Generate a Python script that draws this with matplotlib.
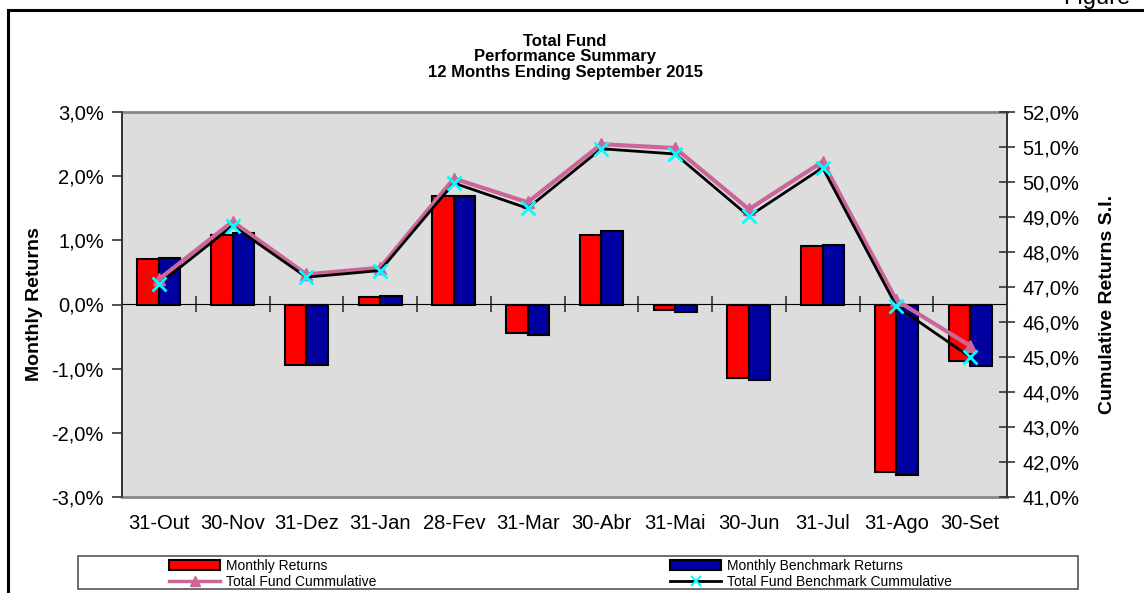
import matplotlib.pyplot as plt
plt.switch_backend("agg")
import numpy as np
from matplotlib.lines import Line2D
from matplotlib.patches import Patch, Rectangle
from matplotlib.ticker import FuncFormatter

plt.rcParams['font.family'] = ['Liberation Sans', 'DejaVu Sans']

months = ["31-Out", "30-Nov", "31-Dez", "31-Jan", "28-Fev", "31-Mar",
          "30-Abr", "31-Mai", "30-Jun", "31-Jul", "31-Ago", "30-Set"]
# monthly returns, %
fund_ret = [0.71, 1.09, -0.94, 0.12, 1.69, -0.45, 1.09, -0.09, -1.14, 0.91, -2.61, -0.88]
bench_ret = [0.73, 1.12, -0.94, 0.13, 1.69, -0.47, 1.14, -0.12, -1.17, 0.93, -2.65, -0.96]
# cumulative since inception, %
fund_cum = [47.22, 48.87, 47.36, 47.55, 50.1, 49.42, 51.08, 50.97, 49.22, 50.58, 46.62, 45.32]
bench_cum = [47.08, 48.75, 47.28, 47.47, 49.97, 49.25, 50.95, 50.8, 49.02, 50.41, 46.45, 45.0]

fig = plt.figure(figsize=(11.44, 5.93), dpi=100)
ax = fig.add_axes([122 / 1144, 96 / 593, 885 / 1144, 385 / 593])
ax.set_facecolor("#dddddd")

x = np.arange(len(months))
w = 0.29
ax.bar(x - w / 2, fund_ret, w, color="#ff0000", edgecolor="black", linewidth=1.5, zorder=2)
ax.bar(x + w / 2, bench_ret, w, color="#0000a0", edgecolor="black", linewidth=1.5, zorder=2)

ax.set_xlim(-0.5, len(months) - 0.5)
ax.set_ylim(-3, 3)
ax.set_yticks(np.arange(-3, 3.1, 1))
pct = FuncFormatter(lambda v, p: ("%.1f%%" % v).replace(".", ","))
ax.yaxis.set_major_formatter(pct)
ax.set_xticks(x)
ax.set_xticklabels(months)
ax.tick_params(axis="x", length=0, labelsize=14.5, pad=12)
ax.tick_params(axis="y", direction="out", length=7, width=1.2, color="#333333",
               labelsize=14.5, pad=6)
ax.set_ylabel("Monthly Returns", fontsize=14, fontweight="bold", labelpad=6)
for s in ["left", "right"]:
    ax.spines[s].set_color("#333333")
    ax.spines[s].set_linewidth(1.2)
for s in ["top", "bottom"]:
    ax.spines[s].set_color("#888888")
    ax.spines[s].set_linewidth(2)

# zero line with category separators
zero = ax.secondary_xaxis(0.5)
zero.set_xticks(np.arange(0.5, len(months) - 1, 1))
zero.set_xticklabels([])
zero.tick_params(direction="inout", length=12, width=1.2, color="#333333")
zero.spines["bottom"].set_color("#333333")
zero.spines["bottom"].set_linewidth(1.2)

ax2 = ax.twinx()
ax2.plot(x, fund_cum, color="#cc6699", linewidth=3, marker="^", markersize=8, zorder=3)
ax2.plot(x, bench_cum, color="black", linewidth=2, zorder=4)
ax2.plot(x, bench_cum, linestyle="none", marker="x", markersize=10, markeredgewidth=2,
         color="#00ffff", zorder=5)
ax2.set_ylim(41, 52)
ax2.set_yticks(np.arange(41, 52.1, 1))
ax2.yaxis.set_major_formatter(pct)
ax2.tick_params(axis="y", direction="inout", length=12, width=1.2, color="#333333",
                labelsize=14.5, pad=5)
ax2.set_ylabel("Cumulative Returns S.I.", fontsize=14, fontweight="bold", labelpad=14)
for s in ["left", "right"]:
    ax2.spines[s].set_color("#333333")
    ax2.spines[s].set_linewidth(1.2)
for s in ["top", "bottom"]:
    ax2.spines[s].set_visible(False)

# titles
title_lines = ["Total Fund", "Performance Summary", "12 Months Ending September 2015"]
for i, line in enumerate(title_lines):
    fig.text(0.494, 1 - (41 + 16 * i) / 593, line, ha="center", va="center",
             fontsize=12, fontweight="bold")

# outer frame and clipped caption
fig.add_artist(Line2D([8 / 1144, 8 / 1144], [-0.1, 1 - 10 / 593], color="black",
                      linewidth=2.2, transform=fig.transFigure))
fig.add_artist(Line2D([8 / 1144, 1.1], [1 - 10 / 593, 1 - 10 / 593], color="black",
                      linewidth=2.2, transform=fig.transFigure))
fig.text(1130 / 1144, 1 - 4 / 593, "Figure", ha="right", va="baseline", fontsize=17)

# legend
fig.add_artist(Rectangle((78 / 1144, 4 / 593), 1000 / 1144, 33 / 593, facecolor="white",
                         edgecolor="#555555", linewidth=1.2, transform=fig.transFigure))
h_fund = Patch(facecolor="#ff0000", edgecolor="black", linewidth=1.5)
h_bench = Patch(facecolor="#0000a0", edgecolor="black", linewidth=1.5)
h_fcum = Line2D([], [], color="#cc6699", linewidth=2.5, marker="^", markersize=7)
h_bcum = Line2D([], [], color="black", linewidth=2, marker="x", markersize=7,
                markeredgewidth=1.5, markeredgecolor="#00ffff")
leg_kw = dict(frameon=False, fontsize=10, handlelength=3.7, handleheight=0.75,
              handletextpad=0.4, labelspacing=0.15, borderpad=0, borderaxespad=0,
              loc="upper left")
l1 = fig.legend([h_fund, h_fcum], ["Monthly Returns", "Total Fund Cummulative"],
                bbox_to_anchor=(169 / 1144, 1 - 559 / 593), **leg_kw)
l2 = fig.legend([h_bench, h_bcum], ["Monthly Benchmark Returns",
                                    "Total Fund Benchmark Cummulative"],
                bbox_to_anchor=(670 / 1144, 1 - 559 / 593), **leg_kw)

fig.savefig("out.png", dpi=100)
